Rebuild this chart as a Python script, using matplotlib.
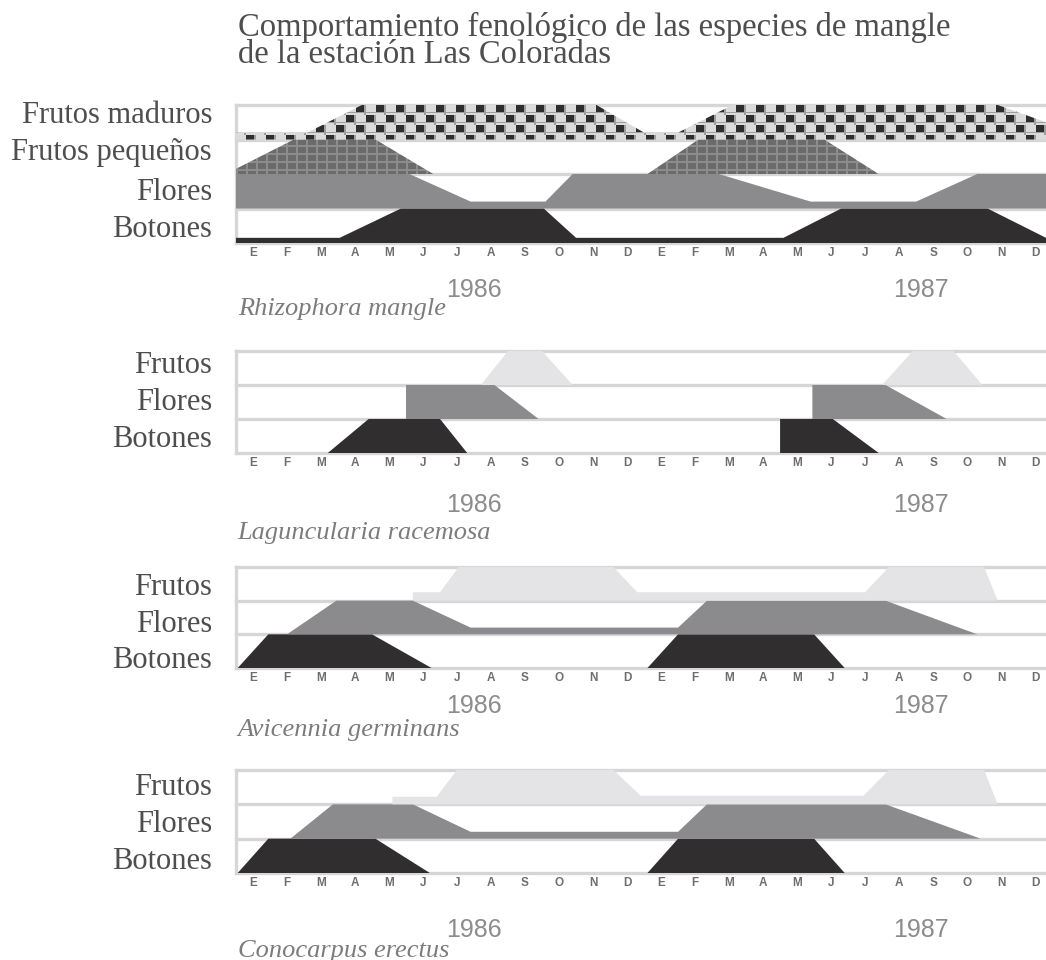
import numpy as np
import matplotlib
matplotlib.use("Agg")
import matplotlib.pyplot as plt
from matplotlib.path import Path
from matplotlib import transforms

# ---------------- data ----------------
MONTHS = ['E', 'F', 'M', 'A', 'M', 'J', 'J', 'A', 'S', 'O', 'N', 'D'] * 2
YEARS = ['1986', '1987']
YEAR_POS = [7.0, 20.15]          # month position of the year labels
X_MAX = 23.82                    # visible extent of the month axis

TITLE = "Comportamiento fenológico de las especies de mangle\nde la estación Las Coloradas"

SPECIES = ["Rhizophora mangle", "Laguncularia racemosa",
           "Avicennia germinans", "Conocarpus erectus"]

ROWS_4 = ['Botones', 'Flores', 'Frutos pequeños', 'Frutos maduros']  # bottom-up
ROWS_3 = ['Botones', 'Flores', 'Frutos']                             # bottom-up

# intensity (fraction of row height) at month positions
# Rhizophora mangle
RM_BOT_X = [0, 3.05, 4.85, 9.05, 10.0, 16.1, 17.8, 22.1, 23.82]
RM_BOT_Y = [0.15, 0.15, 1, 1, 0.15, 0.15, 1, 1, 0.15]
RM_FLO_X = [0, 5.1, 6.9, 9.1, 9.9, 14.2, 16.9, 20.0, 21.8, 23.82]
RM_FLO_Y = [1, 1, 0.2, 0.2, 1, 1, 0.2, 0.2, 1, 1]
RM_FPQ_X = [0, 1.7, 4.1, 5.8, 12.1, 13.6, 17.3, 18.9]
RM_FPQ_Y = [0.15, 1, 1, 0, 0, 1, 1, 0]
RM_FMA_X = [0, 2.1, 3.7, 10.6, 12.0, 13.0, 14.6, 22.4, 23.82]
RM_FMA_Y = [0.2, 0.2, 1, 1, 0.2, 0.2, 1, 1, 0.5]

# Laguncularia racemosa
LR_BOT_X = [2.7, 3.9, 6.0, 6.8, 16.0, 16.0, 17.55, 18.9]
LR_BOT_Y = [0, 1, 1, 0, 0, 1, 1, 0]
LR_FLO_X = [5.0, 5.0, 7.6, 8.9, 16.95, 16.95, 19.1, 20.9]
LR_FLO_Y = [0, 1, 1, 0, 0, 1, 1, 0]
LR_FRU_X = [7.2, 8.0, 9.0, 9.9, 19.0, 19.9, 21.1, 21.95]
LR_FRU_Y = [0, 1, 1, 0, 0, 1, 1, 0]

# Avicennia germinans
AG_BOT_X = [0.05, 0.95, 4.0, 5.75, 12.1, 13.0, 17.0, 17.9]
AG_BOT_Y = [0, 1, 1, 0, 0, 1, 1, 0]
AG_FLO_X = [1.5, 2.95, 5.2, 6.9, 13.0, 13.85, 19.1, 21.8]
AG_FLO_Y = [0, 1, 1, 0.2, 0.2, 1, 1, 0]
AG_FRU_X = [5.2, 5.2, 6.0, 6.55, 11.1, 11.8, 18.5, 19.2, 22.0, 22.4]
AG_FRU_Y = [0, 0.25, 0.25, 1, 1, 0.25, 0.25, 1, 1, 0]

# Conocarpus erectus
CE_BOT_X = [0.05, 0.95, 4.1, 5.7, 12.1, 13.0, 17.0, 17.9]
CE_BOT_Y = [0, 1, 1, 0, 0, 1, 1, 0]
CE_FLO_X = [1.6, 2.85, 5.2, 6.9, 13.0, 13.85, 19.1, 21.9]
CE_FLO_Y = [0, 1, 1, 0.2, 0.2, 1, 1, 0]
CE_FRU_X = [4.6, 4.6, 5.9, 6.5, 11.1, 11.9, 18.45, 19.2, 22.0, 22.4]
CE_FRU_Y = [0, 0.22, 0.22, 1, 1, 0.25, 0.25, 1, 1, 0]

# ---------------- style ----------------
W, H = 1046, 960
C_BOT = '#302e2f'
C_FLO = '#8b8b8d'
C_FRU = '#e4e4e6'
C_LINE = '#d6d6d8'
C_TEXT = '#4e4e4e'
C_SPEC = '#7c7c7c'
C_YEAR = '#8c8c8c'
SERIF = ['Liberation Serif', 'DejaVu Serif']
SANS = ['Liberation Sans', 'DejaVu Sans']
LEFT_PX = 236
LABEL_RIGHT_PX = 212

fig = plt.figure(figsize=(W / 100, H / 100), dpi=100)
fig.patch.set_facecolor('white')

fig.text(238 / W, 1 - 12 / H, TITLE, family=SERIF, fontsize=23.5,
         color=C_TEXT, ha='left', va='top', linespacing=0.84)


def texture(kind, wpx, hpx):
    yy, xx = np.mgrid[0:hpx, 0:wpx]
    if kind == 'checker':
        r = yy // 10
        xs = (xx + (r % 2) * 10) % 20
        ys = yy % 10
        dark = (xs < 8) & (ys < 7)
        mid = ((xs >= 8) & (xs < 10)) | (ys >= 7) & (ys < 8)
        g = np.where(dark, 0.18, np.where(mid, 0.62, 0.86))
    else:
        light = (xx % 10 < 2) | (yy % 8 < 2)
        g = np.where(light, 0.55, 0.42)
    return np.dstack([g, g, g])


panels = [
    dict(species=SPECIES[0], rows=ROWS_4, top=105, bot=243,
         series=[(RM_BOT_X, RM_BOT_Y, C_BOT), (RM_FLO_X, RM_FLO_Y, C_FLO),
                 (RM_FPQ_X, RM_FPQ_Y, 'grid'), (RM_FMA_X, RM_FMA_Y, 'checker')],
         label_base=[237, 200, 160, 123], year_base=297, spec_base=315),
    dict(species=SPECIES[1], rows=ROWS_3, top=351, bot=453,
         series=[(LR_BOT_X, LR_BOT_Y, C_BOT), (LR_FLO_X, LR_FLO_Y, C_FLO),
                 (LR_FRU_X, LR_FRU_Y, C_FRU)],
         label_base=[447, 410, 373], year_base=512, spec_base=539),
    dict(species=SPECIES[2], rows=ROWS_3, top=567, bot=668,
         series=[(AG_BOT_X, AG_BOT_Y, C_BOT), (AG_FLO_X, AG_FLO_Y, C_FLO),
                 (AG_FRU_X, AG_FRU_Y, C_FRU)],
         label_base=[668, 632, 595], year_base=713, spec_base=736),
    dict(species=SPECIES[3], rows=ROWS_3, top=770, bot=873,
         series=[(CE_BOT_X, CE_BOT_Y, C_BOT), (CE_FLO_X, CE_FLO_Y, C_FLO),
                 (CE_FRU_X, CE_FRU_Y, C_FRU)],
         label_base=[869, 832, 795], year_base=937, spec_base=957),
]

for p in panels:
    n = len(p['rows'])
    ax = fig.add_axes([LEFT_PX / W, 1 - p['bot'] / H, 1 - LEFT_PX / W,
                       (p['bot'] - p['top']) / H])
    ax.set_facecolor('white')
    for s in ax.spines.values():
        s.set_visible(False)
    ax.set_yticks([])
    ax.set_xticks(np.arange(len(MONTHS)) + 0.5)
    ax.set_xticklabels(MONTHS, fontsize=8.5, fontweight='bold',
                       color='#6e6e6e', family=SANS)
    ax.tick_params(axis='x', length=0, pad=3)

    for i in range(n + 1):
        ax.axhline(i, color=C_LINE, lw=2.4, zorder=1, clip_on=False)
    ax.axvline(0, color=C_LINE, lw=2.4, zorder=1, clip_on=False)

    wpx = W - LEFT_PX
    hpx = p['bot'] - p['top']
    for i, (xs, ys, col) in enumerate(p['series']):
        xs = np.asarray(xs, float)
        ys = np.asarray(ys, float)
        if col in ('grid', 'checker'):
            poly = ax.fill_between(xs, i, i + ys, facecolor='none', lw=0,
                                   zorder=2)
            path = Path.make_compound_path(*poly.get_paths())
            im = ax.imshow(texture(col, wpx, hpx), extent=(0, X_MAX, 0, n),
                           aspect='auto', interpolation='nearest', zorder=2)
            im.set_clip_path(path, ax.transData)
        else:
            ax.fill_between(xs, i, i + ys, facecolor=col, lw=0, zorder=2)

    ax.set_xlim(0, X_MAX)
    ax.set_ylim(0, n)

    for name, base in zip(p['rows'], p['label_base']):
        fig.text(LABEL_RIGHT_PX / W, 1 - base / H, name, family=SERIF,
                 fontsize=22, color=C_TEXT, ha='right', va='baseline')

    trans = transforms.blended_transform_factory(ax.transData, fig.transFigure)
    for yr, xp in zip(YEARS, YEAR_POS):
        ax.text(xp, 1 - p['year_base'] / H, yr, transform=trans, family=SANS,
                fontsize=18, color=C_YEAR, ha='center', va='baseline')
    ax.text(0.05, 1 - p['spec_base'] / H, p['species'], transform=trans,
            family=SERIF, style='italic', fontsize=19, color=C_SPEC,
            ha='left', va='baseline')

fig.savefig('out.png', dpi=100)
